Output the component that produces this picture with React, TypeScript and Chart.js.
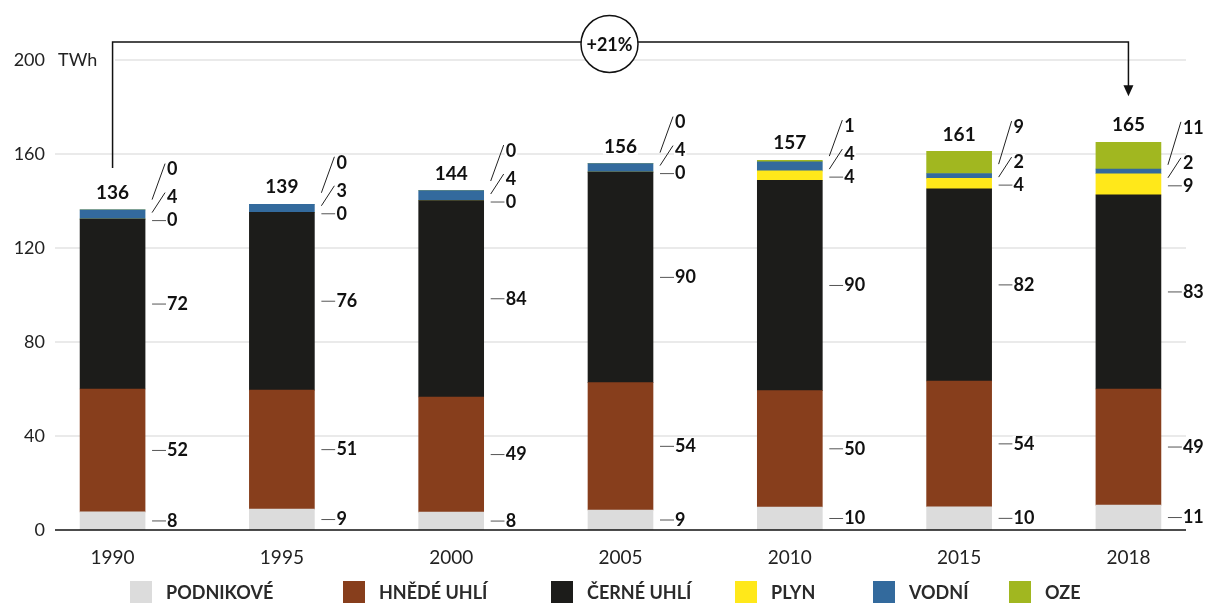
import React, { useEffect, useRef } from 'react';
import { Chart, registerables } from 'chart.js';

Chart.register(...registerables);

// ---- data ----
const YEARS = ['1990', '1995', '2000', '2005', '2010', '2015', '2018'];
const PODNIKOVE = [7.7, 8.9, 7.6, 8.5, 9.8, 9.9, 10.6];
const HNEDE_UHLI = [52.3, 50.6, 49.0, 54.2, 49.5, 53.5, 49.4];
const CERNE_UHLI = [72.3, 75.7, 83.6, 89.6, 89.5, 81.8, 82.6];
const PLYN = [0, 0, 0, 0, 4.0, 4.4, 9.0];
const VODNI = [3.9, 3.4, 4.2, 3.6, 3.9, 2.1, 2.0];
const OZE = [0, 0, 0, 0, 0.6, 9.4, 11.4];
const SERIES_NAMES = ['PODNIKOVÉ', 'HNĚDÉ UHLÍ', 'ČERNÉ UHLÍ', 'PLYN', 'VODNÍ', 'OZE'];
const Y_TICKS = [0, 40, 80, 120, 160, 200];
const UNIT = 'TWh';
const CHANGE_LABEL = '+21%';

// ---- styles ----
const COLORS = ['#dcdcdc', '#873e1c', '#1c1c1a', '#ffe81a', '#336a9d', '#a1b720'];
const FONT = 'Lato, "Open Sans", sans-serif';
const TEXT = '#111111';
const LEGEND_BOX_X = [130, 343, 551, 735, 873, 1009];
const BAR_W = 65;

const SERIES = [PODNIKOVE, HNEDE_UHLI, CERNE_UHLI, PLYN, VODNI, OZE];

function labelText(ctx: CanvasRenderingContext2D, text: string, x: number, y: number, align: CanvasTextAlign, font: string) {
  ctx.font = font;
  const w = ctx.measureText(text).width;
  let left = x;
  if (align === 'center') left = x - w / 2;
  else if (align === 'right') left = x - w;
  ctx.fillStyle = '#ffffff';
  ctx.fillRect(left - 1, y - 8, w + 2, 16);
  ctx.fillStyle = TEXT;
  ctx.textAlign = align;
  ctx.textBaseline = 'middle';
  ctx.fillText(text, x, y);
}

function line(ctx: CanvasRenderingContext2D, x1: number, y1: number, x2: number, y2: number, color = '#333', w = 1) {
  ctx.strokeStyle = color;
  ctx.lineWidth = w;
  ctx.beginPath();
  ctx.moveTo(x1, y1);
  ctx.lineTo(x2, y2);
  ctx.stroke();
}

const gridPlugin = {
  id: 'customGrid',
  beforeDatasetsDraw(chart: any) {
    const { ctx, chartArea, scales } = chart;
    ctx.save();
    Y_TICKS.forEach((v) => {
      if (v === 0) return;
      const y = scales.y.getPixelForValue(v);
      line(ctx, chartArea.left, y, chartArea.right, y, '#e3e3e3', 1.5);
    });
    ctx.restore();
  },
  afterDatasetsDraw(chart: any) {
    const { ctx, chartArea, scales } = chart;
    const xs = scales.x;
    const ys = scales.y;
    ctx.save();

    // unit label
    const y200 = ys.getPixelForValue(200);
    ctx.fillStyle = '#fff';
    ctx.fillRect(chartArea.left, y200 - 4, 60, 8);
    ctx.font = `18px ${FONT}`;
    ctx.fillStyle = '#222';
    ctx.textAlign = 'left';
    ctx.textBaseline = 'middle';
    ctx.fillText(UNIT, 58, y200);

    const segFont = `bold 18px ${FONT}`;
    const totFont = `bold 19px ${FONT}`;
    YEARS.forEach((_, i) => {
      const cx = xs.getPixelForValue(i);
      const br = cx + BAR_W / 2;
      let cum = 0;
      const bounds = SERIES.map((arr) => {
        const b = cum;
        cum += arr[i];
        return [b, cum];
      });
      // lower three
      for (let s = 0; s < 3; s++) {
        const y = ys.getPixelForValue((bounds[s][0] + bounds[s][1]) / 2);
        line(ctx, br + 7, y, br + 21, y, '#555', 1);
        labelText(ctx, String(Math.round(SERIES[s][i])), br + 22, y, 'left', segFont);
      }
      // upper three
      const plynY = ys.getPixelForValue((bounds[3][0] + bounds[3][1]) / 2) + 1.5;
      const vodY = plynY - 23;
      const ozeY = vodY - (OZE[i] > 5 ? 35 : 28);
      line(ctx, br + 7, plynY, br + 21, plynY, '#555', 1);
      line(ctx, br + 7, plynY - 8, br + 20, vodY - 5, '#222', 1);
      line(ctx, br + 7, vodY + 2, br + 20, ozeY - 6, '#222', 1);
      labelText(ctx, String(Math.round(PLYN[i])), br + 22, plynY, 'left', segFont);
      labelText(ctx, String(Math.round(VODNI[i])), br + 22, vodY, 'left', segFont);
      labelText(ctx, String(Math.round(OZE[i])), br + 22, ozeY, 'left', segFont);
      // total
      const ty = ys.getPixelForValue(cum) - 17;
      labelText(ctx, String(Math.round(cum)), cx, ty, 'center', totFont);
    });

    // zero line (on top)
    const y0 = ys.getPixelForValue(0);
    line(ctx, chartArea.left, y0, chartArea.right, y0, '#111', 1.5);

    // bracket with change
    const first = 0;
    const last = YEARS.length - 1;
    const tot = (i: number) => SERIES.reduce((a, arr) => a + arr[i], 0);
    const x0 = xs.getPixelForValue(first);
    const x1 = xs.getPixelForValue(last);
    const yTop = 42;
    const yL = ys.getPixelForValue(tot(first)) - 42;
    const yTip = ys.getPixelForValue(tot(last)) - 46;
    ctx.strokeStyle = '#111';
    ctx.lineWidth = 1.5;
    ctx.beginPath();
    ctx.moveTo(x0, yL);
    ctx.lineTo(x0, yTop);
    ctx.lineTo(x1, yTop);
    ctx.lineTo(x1, yTip - 9);
    ctx.stroke();
    ctx.fillStyle = '#111';
    ctx.beginPath();
    ctx.moveTo(x1, yTip);
    ctx.lineTo(x1 - 5, yTip - 11);
    ctx.lineTo(x1 + 5, yTip - 11);
    ctx.closePath();
    ctx.fill();
    const ccx = (x0 + x1) / 2 - 11;
    ctx.beginPath();
    ctx.arc(ccx, 44, 28.5, 0, Math.PI * 2);
    ctx.fillStyle = '#fff';
    ctx.fill();
    ctx.strokeStyle = '#111';
    ctx.lineWidth = 1.5;
    ctx.stroke();
    ctx.font = `bold 18px ${FONT}`;
    ctx.fillStyle = TEXT;
    ctx.textAlign = 'center';
    ctx.textBaseline = 'middle';
    ctx.fillText(CHANGE_LABEL, ccx, 45);

    // legend
    SERIES_NAMES.forEach((name, k) => {
      const bx = LEGEND_BOX_X[k];
      ctx.fillStyle = COLORS[k];
      ctx.fillRect(bx, 581, 22, 22);
      ctx.font = `bold 18px ${FONT}`;
      ctx.fillStyle = '#2a2a2a';
      ctx.textAlign = 'left';
      ctx.textBaseline = 'middle';
      ctx.fillText(name, bx + 36, 593);
    });
    ctx.restore();
  },
};

export default function App() {
  const ref = useRef<HTMLCanvasElement | null>(null);
  useEffect(() => {
    document.body.style.margin = '0';
    if (!ref.current) return;
    Chart.defaults.font.family = FONT;
    const chart = new Chart(ref.current, {
      type: 'bar',
      data: {
        datasets: SERIES.map((arr, k) => ({
          label: SERIES_NAMES[k],
          data: arr.map((v, i) => ({ x: i, y: v })),
          backgroundColor: COLORS[k],
          borderWidth: 0,
          barThickness: BAR_W,
        })),
      },
      options: {
        responsive: false,
        animation: false,
        layout: { padding: { left: 0, right: 21, top: 60, bottom: 0 } },
        plugins: { legend: { display: false }, tooltip: { enabled: false } },
        scales: {
          x: {
            type: 'linear',
            min: -0.34,
            max: 6.34,
            offset: false,
            stacked: true,
            grid: { display: false, drawTicks: false, offset: false },
            border: { display: false },
            afterBuildTicks: (s: any) => {
              s.ticks = YEARS.map((_, i) => ({ value: i }));
            },
            afterFit: (s: any) => {
              s.height = 76;
            },
            ticks: {
              autoSkip: false,
              maxRotation: 0,
              padding: 16,
              color: '#222',
              font: { size: 19 },
              callback: (v: any) => YEARS[v] ?? '',
            },
          },
          y: {
            min: 0,
            max: 200,
            stacked: true,
            grid: { display: false, drawTicks: false },
            border: { display: false },
            afterFit: (s: any) => {
              s.width = 55;
            },
            afterBuildTicks: (s: any) => {
              s.ticks = Y_TICKS.map((v) => ({ value: v }));
            },
            ticks: { padding: 10, color: '#222', font: { size: 18 } },
          },
        },
      } as any,
      plugins: [gridPlugin],
    });
    return () => chart.destroy();
  }, []);
  return <canvas ref={ref} width={1207} height={606} style={{ display: 'block' }} />;
}
